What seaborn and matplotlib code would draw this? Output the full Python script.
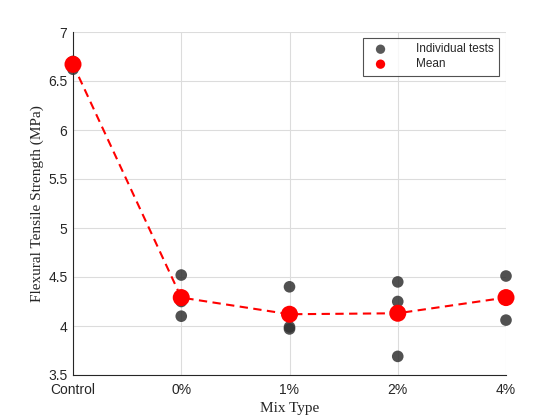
import matplotlib
matplotlib.use("Agg")
import matplotlib.pyplot as plt
import seaborn as sns
import pandas as pd

categories = ["Control", "0%", "1%", "2%", "4%"]
test_mix = ["Control", "Control", "Control", "0%", "0%", "0%",
            "1%", "1%", "1%", "2%", "2%", "2%", "4%", "4%", "4%"]
test_values = [6.62, 6.68, 6.70, 4.52, 4.25, 4.10,
               4.40, 3.99, 3.97, 4.45, 4.25, 3.69, 4.51, 4.30, 4.06]
mean_values = [6.67, 4.29, 4.12, 4.13, 4.29]

sns.set_style("white")
plt.rcParams["font.family"] = ["Liberation Sans", "DejaVu Sans"]

tests = pd.DataFrame({"mix": test_mix, "value": test_values})
tests["x"] = tests["mix"].map({c: i for i, c in enumerate(categories)})
means = pd.DataFrame({"mix": categories, "value": mean_values,
                      "x": list(range(len(categories)))})

fig = plt.figure(figsize=(5.6, 4.2), dpi=100)
ax = fig.add_axes([73/560, 45/420, 433/560, 343/420])

ax.grid(True, color="#dcdcdc", linewidth=0.8)
ax.set_axisbelow(True)

sns.lineplot(data=means, x="x", y="value", ax=ax, color="red",
             linestyle=(0, (4, 2.6)), linewidth=1.5, zorder=3, legend=False)
sns.scatterplot(data=tests, x="x", y="value", ax=ax, color="#333333",
                alpha=0.85, s=70, edgecolor="none", zorder=4,
                label="Individual tests", clip_on=False)
sns.scatterplot(data=means, x="x", y="value", ax=ax, color="red",
                s=150, edgecolor="none", zorder=5, label="Mean", clip_on=False)

ax.set_xlim(0, 4)
ax.set_ylim(3.5, 7)
ax.set_xticks(range(len(categories)))
ax.set_xticklabels(categories)
ax.set_yticks([3.5, 4, 4.5, 5, 5.5, 6, 6.5, 7])
ax.set_yticklabels(["3.5", "4", "4.5", "5", "5.5", "6", "6.5", "7"])
ax.tick_params(direction="in", length=4, width=0.6, labelsize=10,
               colors="#262626", pad=4)
ax.tick_params(axis="x", pad=5.5)
for s in ["top", "right"]:
    ax.spines[s].set_visible(False)
for s in ["left", "bottom"]:
    ax.spines[s].set_color("#262626")
    ax.spines[s].set_linewidth(0.8)

ax.set_xlabel("Mix Type", fontfamily="Liberation Serif", fontsize=11,
              color="#262626", labelpad=4)
ax.set_ylabel("Flexural Tensile Strength (MPa)", fontfamily="Liberation Serif",
              fontsize=11, color="#262626", labelpad=3)

leg = ax.legend(loc="upper right", bbox_to_anchor=(1 - 7/433, 1 - 6/343),
                fontsize=8.5, frameon=True, fancybox=False,
                edgecolor="#262626", borderpad=0.45, handletextpad=2.0,
                labelspacing=0.25, borderaxespad=0)
leg.get_frame().set_linewidth(0.8)
for h in leg.legend_handles:
    h.set_alpha(1)
    h.set_sizes([45])
leg.legend_handles[0].set_facecolor("#595959")

fig.savefig("out.png", dpi=100)
